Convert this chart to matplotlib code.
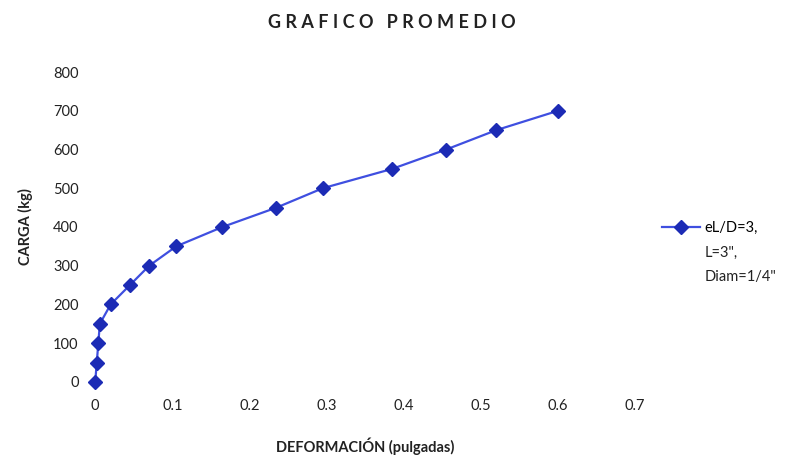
import matplotlib
matplotlib.use("Agg")
import matplotlib.pyplot as plt

# Deformation (inches) vs load (kg)
deformacion = [0, 0.002, 0.004, 0.006, 0.02, 0.045, 0.07, 0.105, 0.165,
               0.235, 0.295, 0.385, 0.455, 0.52, 0.6]
carga = [0, 50, 100, 150, 200, 250, 300, 350, 400, 450, 500, 550, 600, 650, 700]

x_ticks = [0, 0.1, 0.2, 0.3, 0.4, 0.5, 0.6, 0.7]
x_tick_labels = ["0", "0.1", "0.2", "0.3", "0.4", "0.5", "0.6", "0.7"]
y_ticks = [0, 100, 200, 300, 400, 500, 600, 700, 800]

serie_label = ['eL/D=3,', 'L=3",', 'Diam=1/4"']

plt.rcParams["font.family"] = ["Lato", "DejaVu Sans"]

fig = plt.figure(figsize=(8.07, 4.59), dpi=100)
ax = fig.add_axes([0.118, 0.168, 0.669, 0.675])

ax.plot(deformacion, carga, color="#3f4fe0", linewidth=1.6,
        marker="D", markersize=7, markerfacecolor="#1c2bb5",
        markeredgecolor="#1c2bb5", label=serie_label[0], clip_on=False)

ax.set_xlim(0, 0.7)
ax.set_ylim(0, 800)
ax.set_xticks(x_ticks)
ax.set_xticklabels(x_tick_labels)
ax.set_yticks(y_ticks)
ax.tick_params(length=0, labelsize=10.5, colors="#222222", pad=12)
for side in ["top", "right", "bottom", "left"]:
    ax.spines[side].set_visible(False)

fig.text(0.485, 0.952, "G R A F I C O   P R O M E D I O",
         ha="center", va="center", fontsize=13, fontweight="bold",
         color="#222222")
ax.set_xlabel("DEFORMACIÓN (pulgadas)", fontsize=10.5, fontweight="bold",
              color="#222222", labelpad=18)
ax.set_ylabel("CARGA (kg)", fontsize=10.5, fontweight="bold",
              color="#222222", labelpad=14)

# legend: handle beside the first line, the rest of the label below it
leg = ax.legend(loc="center left", bbox_to_anchor=(1.036, 0.497),
                frameon=False, fontsize=10.5, handlelength=2.6,
                handletextpad=0.3, borderpad=0)
fig.text(0.8735, 0.464, serie_label[1] + "\n" + serie_label[2], ha="left",
         va="top", fontsize=10.5, color="#222222", linespacing=1.9)

fig.savefig("out.png", dpi=100, facecolor="white")
